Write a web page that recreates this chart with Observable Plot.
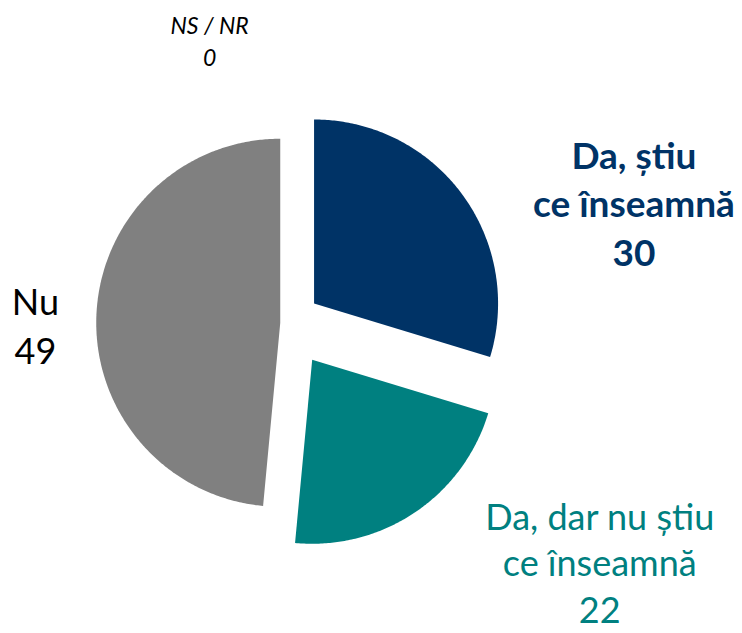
<!DOCTYPE html>
<html>
<head>
<meta charset="utf-8">
<script src="https://cdn.jsdelivr.net/npm/d3@7"></script>
<script src="https://cdn.jsdelivr.net/npm/@observablehq/plot@0.6"></script>
<style>
  html, body { margin: 0; padding: 0; background: #fff; }
  #chart svg { display: block; }
</style>
</head>
<body>
<div id="chart"></div>
<script>
// ---- data ----
const categories = ["Da, știu ce înseamnă", "Da, dar nu știu ce înseamnă", "Nu", "NS / NR"];
const labelTexts = ["Da, știu\nce înseamnă\n30", "Da, dar nu știu\nce înseamnă\n22", "Nu\n49", "NS / NR\n0"];
const values = [30, 22, 49, 0];

// ---- style ----
const colors = ["#003366", "#008080", "#808080", "#404040"];
const textColors = ["#003366", "#008080", "#000000", "#000000"];
const explode = [0.179, 0.240, 0.040, 0];          // fraction of radius
const labelStyle = [
  {dx: 172, dy: 8,  fontSize: 37, fontWeight: "bold",   fontStyle: "normal"},
  {dx: 185, dy: 49, fontSize: 36, fontWeight: "normal", fontStyle: "normal"},
  {dx: -61, dy: 10, fontSize: 36, fontWeight: "normal", fontStyle: "normal"},
  {dx: -78, dy: -99, fontSize: 23, fontWeight: "normal", fontStyle: "italic"}
];
const lineHeightsPx = [48.5, 46.5, 48.5, 31.5];

const W = 742, H = 633, R = 184, CX = 287.1, CY = 322.6;

const arcs = d3.pie().sort(null).value(d => d)(values);

// slice outlines in unit-radius coordinates (y up)
const pts = [];
arcs.forEach((a, i) => {
  if (a.endAngle - a.startAngle <= 0) return;
  const mid = (a.startAngle + a.endAngle) / 2;
  const ox = explode[i] * Math.sin(mid), oy = explode[i] * Math.cos(mid);
  pts.push({cat: categories[i], x: ox, y: oy});
  const n = Math.max(2, Math.ceil((a.endAngle - a.startAngle) / 0.01));
  for (let k = 0; k <= n; k++) {
    const t = a.startAngle + (a.endAngle - a.startAngle) * k / n;
    pts.push({cat: categories[i], x: ox + Math.sin(t), y: oy + Math.cos(t)});
  }
  pts.push({cat: categories[i], x: ox, y: oy});
});

// label anchors: outer arc midpoint of each slice
const labels = arcs.map((a, i) => {
  const mid = (a.startAngle + a.endAngle) / 2;
  const e = explode[i];
  return {text: labelTexts[i], x: (1 + e) * Math.sin(mid), y: (1 + e) * Math.cos(mid), i};
});

const plot = Plot.plot({
  width: W, height: H, margin: 0,
  x: {domain: [-CX / R, (W - CX) / R], axis: null},
  y: {domain: [-(H - CY) / R, CY / R], axis: null},
  color: {domain: categories, range: colors},
  style: {fontFamily: "Lato, sans-serif", background: "#fff"},
  marks: [
    Plot.line(pts, {x: "x", y: "y", z: "cat", fill: "cat", stroke: "none", curve: "linear"}),
    ...labels.map(d => Plot.text([d], {
      x: "x", y: "y", text: "text",
      fill: textColors[d.i],
      fontFamily: "Lato, sans-serif",
      fontSize: labelStyle[d.i].fontSize,
      fontWeight: labelStyle[d.i].fontWeight,
      fontStyle: labelStyle[d.i].fontStyle,
      lineHeight: lineHeightsPx[d.i] / labelStyle[d.i].fontSize,
      dx: labelStyle[d.i].dx, dy: labelStyle[d.i].dy,
      textAnchor: "middle", lineAnchor: "middle"
    }))
  ]
});
document.getElementById("chart").appendChild(plot);
</script>
</body>
</html>
